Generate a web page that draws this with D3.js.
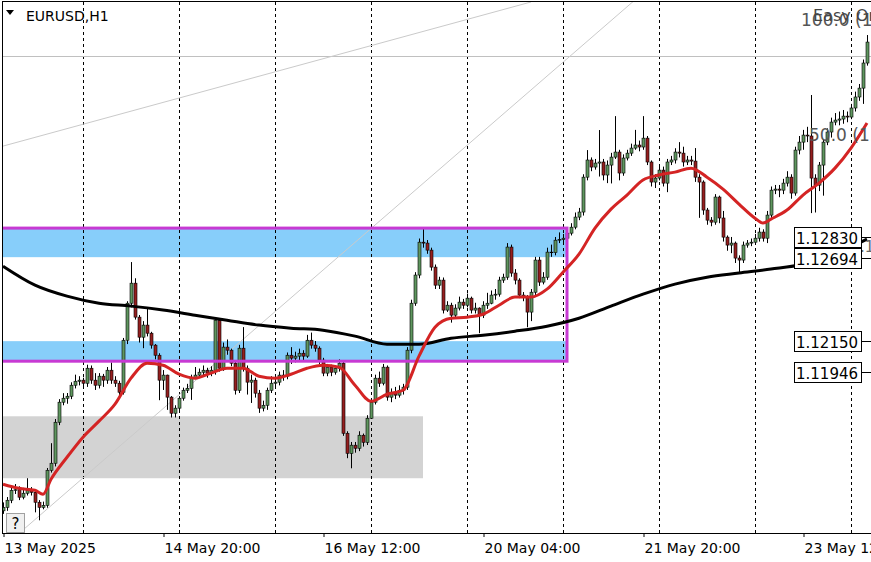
<!DOCTYPE html>
<html>
<head>
<meta charset="utf-8">
<script src="https://cdn.jsdelivr.net/npm/d3@7.9.0/dist/d3.min.js"></script>
<style>
  html, body { margin: 0; padding: 0; background: #fff; overflow: hidden; }
  svg { display: block; }
  text { font-family: 'DejaVu Sans', Verdana, sans-serif; }
</style>
</head>
<body>
<svg id="chart" width="871" height="562"></svg>
<script>
// EURUSD H1, bar 0 = 13 May 2025 04:00
const symbol = 'EURUSD,H1';
const firstOpen = 1.11040;

const closes = [
  1.11063,1.11109,1.11174,1.11178,1.11129,1.11155,1.11174,1.11161,1.11096,1.11063,
  1.11076,1.11305,1.11351,1.11619,1.11750,1.11776,1.11789,1.11861,1.11887,1.11894,
  1.11874,1.11972,1.11894,1.11861,1.11920,1.11894,1.11959,1.11894,1.11874,1.11815,
  1.12155,1.12397,1.12528,1.12306,1.12175,1.12254,1.12201,1.12123,1.12057,1.11894,
  1.11927,1.11783,1.11678,1.11711,1.11776,1.11828,1.11841,1.11913,1.11927,1.11946,
  1.11959,1.11940,1.11959,1.12286,1.11972,1.12110,1.12090,1.12005,1.11828,1.12103,
  1.11972,1.11881,1.11894,1.11809,1.11711,1.11730,1.11828,1.11874,1.11881,1.11927,
  1.11920,1.12057,1.12038,1.12051,1.12070,1.12051,1.12155,1.12123,1.12103,1.12025,
  1.11940,1.11979,1.11946,1.11972,1.12005,1.11547,1.11416,1.11469,1.11449,1.11534,
  1.11488,1.11645,1.11750,1.11907,1.11874,1.11979,1.11783,1.11815,1.11796,1.11828,
  1.11848,1.12090,1.12397,1.12581,1.12796,1.12790,1.12744,1.12633,1.12515,1.12548,
  1.12352,1.12384,1.12319,1.12365,1.12404,1.12384,1.12430,1.12352,1.12365,1.12319,
  1.12384,1.12397,1.12450,1.12456,1.12548,1.12567,1.12764,1.12594,1.12548,1.12450,
  1.12437,1.12339,1.12469,1.12679,1.12535,1.12567,1.12731,1.12728,1.12809,1.12813,
  1.12822,1.12855,1.12894,1.12960,1.12993,1.13221,1.13333,1.13287,1.13313,1.13320,
  1.13235,1.13300,1.13352,1.13385,1.13248,1.13346,1.13378,1.13411,1.13431,1.13418,
  1.13476,1.13320,1.13189,1.13215,1.13267,1.13182,1.13320,1.13333,1.13385,1.13378,
  1.13320,1.13333,1.13326,1.13221,1.13189,1.13006,1.12940,1.12927,1.13091,1.12954,
  1.12829,1.12777,1.12790,1.12692,1.12679,1.12777,1.12790,1.12796,1.12822,1.12862,
  1.12822,1.12973,1.13136,1.13143,1.13136,1.13182,1.13221,1.13117,1.13398,1.13450,
  1.13496,1.13490,1.13215,1.13169,1.13300,1.13450,1.13516,1.13581,1.13594,1.13601,
  1.13620,1.13614,1.13673,1.13745,1.13803,1.13967,1.14104
];

const highs = [
  1.11095,1.11130,1.11200,1.11215,1.11200,1.11190,1.11253,1.11195,1.11175,1.11110,
  1.11100,1.11320,1.11482,1.11640,1.11770,1.11809,1.11810,1.11880,1.11930,1.11920,
  1.11910,1.11995,1.11990,1.11940,1.11940,1.11935,1.11980,1.12010,1.11920,1.11890,
  1.12170,1.12410,1.12666,1.12560,1.12320,1.12280,1.12371,1.12210,1.12130,1.12070,
  1.11960,1.11930,1.11790,1.11730,1.11790,1.11845,1.11870,1.11930,1.11980,1.11970,
  1.11990,1.11975,1.11985,1.12305,1.12295,1.12140,1.12160,1.12100,1.12020,1.12125,
  1.12241,1.11990,1.11930,1.11910,1.11830,1.11760,1.11845,1.11920,1.11930,1.11950,
  1.11960,1.12075,1.12110,1.12080,1.12100,1.12090,1.12190,1.12205,1.12150,1.12115,
  1.12040,1.12000,1.11995,1.11990,1.12030,1.12020,1.11560,1.11490,1.11490,1.11560,
  1.11545,1.11665,1.11770,1.11930,1.11950,1.12000,1.11990,1.11840,1.11850,1.11860,
  1.11870,1.12110,1.12420,1.12600,1.12820,1.12888,1.12810,1.12760,1.12650,1.12570,
  1.12565,1.12410,1.12400,1.12390,1.12440,1.12425,1.12460,1.12440,1.12400,1.12370,
  1.12410,1.12465,1.12480,1.12490,1.12570,1.12590,1.12790,1.12780,1.12620,1.12560,
  1.12470,1.12450,1.12490,1.12700,1.12700,1.12600,1.12760,1.12780,1.12830,1.12860,
  1.12850,1.12880,1.12920,1.12990,1.13020,1.13240,1.13398,1.13350,1.13340,1.13529,
  1.13340,1.13330,1.13380,1.13620,1.13400,1.13370,1.13400,1.13440,1.13530,1.13460,
  1.13620,1.13490,1.13330,1.13240,1.13290,1.13290,1.13340,1.13360,1.13410,1.13450,
  1.13420,1.13360,1.13360,1.13411,1.13240,1.13200,1.13020,1.12960,1.13110,1.13100,
  1.13000,1.12840,1.12830,1.12800,1.12710,1.12800,1.12810,1.12820,1.12850,1.12890,
  1.12880,1.13000,1.13160,1.13170,1.13170,1.13210,1.13260,1.13240,1.13420,1.13490,
  1.13530,1.13550,1.13758,1.13240,1.13320,1.13470,1.13540,1.13610,1.13640,1.13650,
  1.13660,1.13650,1.13700,1.13780,1.13830,1.13990,1.14150
];

const lows = [
  1.11020,1.11040,1.11090,1.11150,1.11110,1.11115,1.11140,1.11140,1.11030,1.10978,
  1.11050,1.11060,1.11290,1.11330,1.11600,1.11730,1.11740,1.11770,1.11840,1.11860,
  1.11850,1.11850,1.11870,1.11830,1.11840,1.11850,1.11870,1.11870,1.11850,1.11790,
  1.11800,1.12130,1.12370,1.12290,1.12140,1.12103,1.12180,1.12100,1.12030,1.11763,
  1.11830,1.11700,1.11650,1.11650,1.11690,1.11760,1.11810,1.11765,1.11900,1.11910,
  1.11920,1.11910,1.11920,1.11930,1.11950,1.11955,1.12060,1.11985,1.11800,1.11810,
  1.11950,1.11800,1.11745,1.11780,1.11680,1.11690,1.11700,1.11810,1.11840,1.11860,
  1.11890,1.11900,1.12000,1.12010,1.12020,1.12020,1.12040,1.12100,1.12080,1.12000,
  1.11920,1.11920,1.11920,1.11930,1.11950,1.11530,1.11384,1.11318,1.11420,1.11430,
  1.11460,1.11470,1.11640,1.11735,1.11850,1.11860,1.11760,1.11750,1.11770,1.11780,
  1.11800,1.11830,1.12070,1.12380,1.12560,1.12760,1.12720,1.12610,1.12490,1.12490,
  1.12330,1.12340,1.12270,1.12300,1.12350,1.12360,1.12370,1.12330,1.12330,1.12201,
  1.12300,1.12360,1.12390,1.12420,1.12440,1.12530,1.12550,1.12570,1.12520,1.12430,
  1.12410,1.12240,1.12280,1.12450,1.12510,1.12520,1.12550,1.12700,1.12710,1.12790,
  1.12790,1.12800,1.12840,1.12880,1.12940,1.12970,1.13200,1.13260,1.13270,1.13225,
  1.13200,1.13182,1.13180,1.13340,1.13200,1.13230,1.13330,1.13360,1.13400,1.13390,
  1.13400,1.13300,1.13160,1.13150,1.13200,1.13160,1.13123,1.13300,1.13310,1.13350,
  1.13290,1.13300,1.13300,1.13190,1.12955,1.12975,1.12910,1.12900,1.12910,1.12920,
  1.12800,1.12740,1.12724,1.12660,1.12594,1.12660,1.12760,1.12770,1.12780,1.12800,
  1.12800,1.12790,1.12950,1.13110,1.13090,1.13110,1.13160,1.13080,1.13100,1.13370,
  1.13400,1.13450,1.12986,1.12990,1.13130,1.13100,1.13430,1.13480,1.13560,1.13560,
  1.13570,1.13580,1.13600,1.13650,1.13720,1.13700,1.13950
];

// fast moving average (red) at these bars
const fastIdx = [0,4,8,10,12,16,20,24,28,32,36,40,44,48,52,56,60,64,68,72,76,80,84,88,92,96,100,
  104,108,112,116,120,124,128,132,136,140,144,148,152,156,160,164,168,172,176,180,184,188,190,192,
  196,200,204,208,212,216];
const fastVal = [1.11214,1.11187,1.11174,1.11148,1.11246,1.11390,1.11521,1.11626,1.11737,1.11907,
  1.12005,1.11992,1.11933,1.11907,1.11940,1.11972,1.11972,1.11920,1.11907,1.11933,1.11972,1.11992,
  1.11979,1.11861,1.11756,1.11802,1.11828,1.12051,1.12240,1.12299,1.12306,1.12325,1.12384,1.12437,
  1.12437,1.12489,1.12600,1.12718,1.12888,1.13012,1.13104,1.13202,1.13235,1.13254,1.13280,1.13221,
  1.13143,1.13045,1.12953,1.12921,1.12947,1.13006,1.13104,1.13182,1.13280,1.13411,1.13575];

// slow moving average (black)
const slowIdx = [0,8,16,24,32,40,48,56,64,72,80,88,96,104,112,120,128,136,144,152,160,168,176,184,192,200,208,216];
const slowVal = [1.12639,1.12515,1.12443,1.12397,1.12378,1.12352,1.12319,1.12286,1.12254,1.12234,
  1.12221,1.12182,1.12129,1.12129,1.12168,1.12188,1.12214,1.12247,1.12299,1.12378,1.12456,1.12522,
  1.12567,1.12594,1.12620,1.12652,1.12718,1.12816];

// zones: [fromBar, toBar, top price, bottom price]
const blueZones = [[-1, 141, 1.12888, 1.12698], [-1, 141, 1.12149, 1.12018]];
const greyZone = [-1, 105, 1.11658, 1.11253];
const frameBox = [-1, 141, 1.12888, 1.12018];

const daySeparators = [20, 44, 68, 92, 116, 140, 164, 188, 212];
const tickIdx = [0, 40, 80, 120, 160, 200];
const tickLabels = ['13 May 2025', '14 May 20:00', '16 May 12:00', '20 May 04:00', '21 May 20:00', '23 May 12:00'];

const priceTags = [1.12830, 1.12694, 1.12150, 1.11946];
const fibLevel100 = 1.14013;
// thin trend lines: [bar0, price0, bar1, price1]
const trendLines = [[0, 1.13424, 132, 1.14366], [5, 1.10915, 160, 1.14425]];

const svg = d3.select('#chart');
const plotLeft = 2, plotRight = 871, plotTop = 2, plotBottom = 533;

const x = d3.scaleLinear().domain([0, 216]).range([3, 867]);
const y = d3.scaleLinear().domain([1.10895, 1.14379]).range([plotBottom, 0]);

svg.append('defs').append('clipPath').attr('id', 'plot')
  .append('rect').attr('x', plotLeft).attr('y', plotTop)
  .attr('width', plotRight - plotLeft).attr('height', plotBottom - plotTop);

const plot = svg.append('g').attr('clip-path', 'url(#plot)');

// background zones
function zoneRect(z, fill) {
  plot.append('rect')
    .attr('x', x(z[0])).attr('y', y(z[2]))
    .attr('width', x(z[1]) - x(z[0])).attr('height', y(z[3]) - y(z[2]))
    .attr('fill', fill);
}
blueZones.forEach((z) => zoneRect(z, '#87cefa'));
zoneRect(greyZone, '#d3d3d3');

// period separators
plot.selectAll('line.sep')
  .data(daySeparators)
  .join('line')
  .attr('x1', (d) => x(d) + 0.5).attr('x2', (d) => x(d) + 0.5)
  .attr('y1', plotTop).attr('y2', plotBottom)
  .attr('stroke', '#000').attr('stroke-width', 1).attr('stroke-dasharray', '3,3');

// fibo level and trend lines
plot.append('line')
  .attr('x1', plotLeft).attr('x2', plotRight)
  .attr('y1', Math.round(y(fibLevel100)) + 0.5).attr('y2', Math.round(y(fibLevel100)) + 0.5)
  .attr('stroke', '#c0c0c0');

plot.selectAll('line.trend')
  .data(trendLines)
  .join('line')
  .attr('x1', (d) => x(d[0])).attr('y1', (d) => y(d[1]))
  .attr('x2', (d) => x(d[2])).attr('y2', (d) => y(d[3]))
  .attr('stroke', '#cacaca').attr('stroke-width', 1);

// candles
const bars = closes.map((c, i) => ({
  i,
  o: i === 0 ? firstOpen : closes[i - 1],
  c,
  h: highs[i],
  l: lows[i],
}));

const candles = plot.append('g');
candles.selectAll('line')
  .data(bars)
  .join('line')
  .attr('x1', (d) => x(d.i) + 0.5).attr('x2', (d) => x(d.i) + 0.5)
  .attr('y1', (d) => y(Math.max(d.h, d.o, d.c)))
  .attr('y2', (d) => y(Math.min(d.l, d.o, d.c)))
  .attr('stroke', '#000');

candles.selectAll('rect')
  .data(bars)
  .join('rect')
  .attr('x', (d) => x(d.i) - 1)
  .attr('width', 3)
  .attr('y', (d) => y(Math.max(d.o, d.c)))
  .attr('height', (d) => Math.max(0.6, y(Math.min(d.o, d.c)) - y(Math.max(d.o, d.c))))
  .attr('fill', (d) => (d.c >= d.o ? '#5f965f' : '#951f1f'))
  .attr('stroke', '#000').attr('stroke-width', 0.6);

// frame rectangle
plot.append('rect')
  .attr('x', x(frameBox[0])).attr('y', y(frameBox[2]))
  .attr('width', x(frameBox[1]) - x(frameBox[0])).attr('height', y(frameBox[3]) - y(frameBox[2]))
  .attr('fill', 'none').attr('stroke', '#c73ad3').attr('stroke-width', 3);

// moving averages
const maLine = d3.line().x((d) => x(d[0])).y((d) => y(d[1])).curve(d3.curveMonotoneX);
plot.append('path')
  .attr('d', maLine(d3.zip(slowIdx, slowVal)))
  .attr('fill', 'none').attr('stroke', '#000').attr('stroke-width', 3);
plot.append('path')
  .attr('d', maLine(d3.zip(fastIdx, fastVal)))
  .attr('fill', 'none').attr('stroke', '#d42424').attr('stroke-width', 3);

// object labels at the right
const serif = "'Liberation Serif', 'DejaVu Serif', serif";
plot.append('text').attr('x', 801).attr('y', 26).attr('font-family', serif)
  .attr('font-size', 17).attr('fill', '#555').text('100.0 (1.14013)');
plot.append('text').attr('x', 813).attr('y', 21).attr('font-family', serif)
  .attr('font-size', 16).attr('fill', '#444').text('Easy Order');
plot.append('text').attr('x', 809).attr('y', 141).attr('font-family', serif)
  .attr('font-size', 17).attr('fill', '#555').text('50.0 (1.13414)');
plot.append('text').attr('x', 816).attr('y', 252).attr('font-family', serif)
  .attr('font-size', 15).attr('fill', '#666').text('0.0 (1.12814)');

// price tags
const tags = plot.selectAll('g.tag')
  .data(priceTags)
  .join('g')
  .attr('transform', (d) => `translate(0,${Math.round(y(d))})`);
tags.append('line')
  .attr('x1', 861).attr('x2', plotRight).attr('y1', 0.5).attr('y2', 0.5)
  .attr('stroke', '#000');
tags.append('rect')
  .attr('x', 794.5).attr('y', -9.5).attr('width', 67).attr('height', 20)
  .attr('fill', '#fff').attr('stroke', '#000');
tags.append('text')
  .attr('x', 796).attr('y', 6.5)
  .attr('font-size', 15).attr('fill', '#000')
  .text((d) => d3.format('.5f')(d));

// frame and time axis
svg.append('line').attr('x1', plotLeft + 0.5).attr('x2', plotLeft + 0.5).attr('y1', 1).attr('y2', plotBottom)
  .attr('stroke', '#000');
svg.append('line').attr('x1', plotLeft).attr('x2', plotRight).attr('y1', 1.5).attr('y2', 1.5)
  .attr('stroke', '#000');

const axis = svg.append('g')
  .attr('transform', `translate(0,${plotBottom})`)
  .call(d3.axisBottom(x).tickValues(tickIdx).tickFormat((d, k) => tickLabels[k]).tickSize(4).tickSizeOuter(0));
axis.select('.domain').remove();
axis.selectAll('.tick line').attr('stroke', '#000').attr('transform', 'translate(0.5,0)');
axis.selectAll('.tick text')
  .attr('text-anchor', 'start').attr('x', 1).attr('y', 20).attr('dy', null)
  .attr('font-size', 14).attr('font-family', "'DejaVu Sans', Verdana, sans-serif").attr('fill', '#000');
svg.append('line').attr('x1', plotLeft).attr('x2', plotRight)
  .attr('y1', plotBottom + 0.5).attr('y2', plotBottom + 0.5)
  .attr('stroke', '#000');

// title
svg.append('path').attr('d', 'M6,10 L14,10 L10,15 Z').attr('fill', '#000');
svg.append('text').attr('x', 26).attr('y', 21).attr('font-size', 14).attr('fill', '#000').text(symbol);

// help button
svg.append('rect').attr('x', 6.5).attr('y', 513.5).attr('width', 18).attr('height', 19)
  .attr('fill', '#f0f0f0').attr('stroke', '#a0a0a0');
svg.append('text').attr('x', 15.5).attr('y', 529).attr('text-anchor', 'middle')
  .attr('font-size', 15).attr('fill', '#000').text('?');
</script>
</body>
</html>
